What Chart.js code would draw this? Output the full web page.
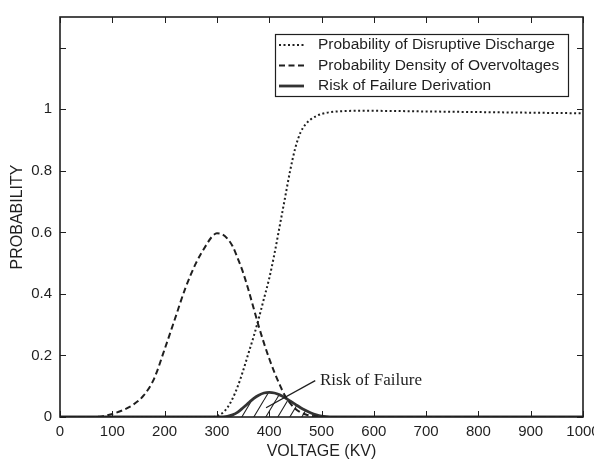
<!DOCTYPE html>
<html>
<head>
<meta charset="utf-8">
<title>Risk of failure</title>
<script src="https://cdn.jsdelivr.net/npm/chart.js@4.4.1/dist/chart.umd.min.js"></script>
<style>
  html, body { margin: 0; padding: 0; background: #fff; }
  #wrap { width: 594px; height: 463px; position: relative; }
</style>
</head>
<body>
<div id="wrap"><canvas id="chart"></canvas></div>
<script>
// probability of disruptive discharge (dotted)
const dischargeKv = [0, 100, 200, 290, 300, 310, 320, 330, 340, 350, 360, 370, 380, 390, 400, 410, 420, 430, 440, 450, 460, 470, 480, 490, 500, 510, 530, 560, 600, 700, 800, 900, 1000];
const dischargeProb = [0, 0, 0, 0, 0.003, 0.012, 0.03, 0.06, 0.1, 0.15, 0.205, 0.26, 0.32, 0.385, 0.45, 0.53, 0.62, 0.71, 0.8, 0.875, 0.925, 0.952, 0.968, 0.978, 0.985, 0.989, 0.993, 0.995, 0.995, 0.993, 0.991, 0.989, 0.987];

// probability density of overvoltages (dashed)
const densityKv = [0, 50, 80, 100, 120, 140, 160, 180, 200, 220, 240, 260, 280, 290, 300, 310, 320, 330, 340, 350, 360, 370, 380, 390, 400, 410, 420, 430, 440, 450, 460, 470, 480, 500, 520, 560, 600, 800, 1000];
const densityProb = [0, 0, 0.002, 0.01, 0.022, 0.04, 0.07, 0.125, 0.22, 0.32, 0.42, 0.5, 0.56, 0.585, 0.597, 0.594, 0.58, 0.555, 0.515, 0.47, 0.415, 0.355, 0.295, 0.24, 0.19, 0.145, 0.105, 0.07, 0.045, 0.027, 0.015, 0.008, 0.004, 0.001, 0, 0, 0, 0, 0];

// risk of failure derivation (solid, hatched underneath)
const riskKv = [0, 100, 200, 300, 320, 330, 340, 350, 360, 370, 380, 390, 400, 410, 420, 430, 440, 450, 460, 470, 480, 490, 500, 510, 520, 600, 700, 800, 900, 1000];
const riskProb = [0, 0, 0, 0, 0.002, 0.007, 0.016, 0.03, 0.045, 0.06, 0.071, 0.078, 0.08, 0.078, 0.072, 0.063, 0.052, 0.041, 0.03, 0.021, 0.013, 0.007, 0.003, 0.001, 0, 0, 0, 0, 0, 0];

const xTickValues = [0, 100, 200, 300, 400, 500, 600, 700, 800, 900, 1000];
const yTickValues = [0, 0.2, 0.4, 0.6, 0.8, 1, 1.2];

const seriesLabels = [
    'Probability of Disruptive Discharge',
    'Probability Density of Overvoltages',
    'Risk of Failure Derivation'
];

const noteText = 'Risk of Failure';
const noteTextAt = [497, 0.105];
const notePointer = [[488, 0.118], [394, 0.03]];

const ink = '#1f1f1f';

const toPoints = (xs, ys) => xs.map((v, i) => ({ x: v, y: ys[i] }));

// diagonal "/" hatching for the risk area
const makeHatch = () => {
    const tile = document.createElement('canvas');
    tile.width = 12;
    tile.height = 20;
    const c = tile.getContext('2d');
    c.strokeStyle = '#222';
    c.lineWidth = 1.1;
    c.beginPath();
    [-12, 0, 12].forEach((dx) => {
        c.moveTo(dx, 20);
        c.lineTo(dx + 12, 0);
    });
    c.stroke();
    return c.createPattern(tile, 'repeat');
};

// box, inward ticks, legend and the pointer note
const decorations = {
    id: 'decorations',
    afterDatasetsDraw(chart) {
        const { ctx, chartArea: a, scales: { x, y } } = chart;
        ctx.save();
        ctx.strokeStyle = ink;
        ctx.fillStyle = ink;

        ctx.lineWidth = 1;
        ctx.beginPath();
        x.ticks.forEach((t) => {
            const px = Math.round(x.getPixelForValue(t.value)) + 0.5;
            ctx.moveTo(px, a.bottom);
            ctx.lineTo(px, a.bottom - 6);
            ctx.moveTo(px, a.top);
            ctx.lineTo(px, a.top + 6);
        });
        y.ticks.forEach((t) => {
            const py = Math.round(y.getPixelForValue(t.value)) + 0.5;
            ctx.moveTo(a.left, py);
            ctx.lineTo(a.left + 6, py);
            ctx.moveTo(a.right, py);
            ctx.lineTo(a.right - 6, py);
        });
        ctx.stroke();

        ctx.lineWidth = 1.6;
        ctx.strokeRect(a.left, a.top, a.right - a.left, a.bottom - a.top);

        // legend
        const bw = 293, bh = 62;
        const bx = a.right - bw - 15, by = a.top + 17;
        ctx.fillStyle = '#fff';
        ctx.fillRect(bx, by, bw, bh);
        ctx.lineWidth = 1.2;
        ctx.strokeRect(bx + 0.5, by + 0.5, bw, bh);
        ctx.font = '15.5px "Liberation Sans", Arial, sans-serif';
        ctx.textBaseline = 'middle';
        chart.data.datasets.forEach((ds, i) => {
            const ly = by + 11 + i * 20.5;
            ctx.save();
            ctx.strokeStyle = ds.borderColor;
            ctx.lineWidth = ds.borderWidth;
            ctx.setLineDash(ds.borderDash || []);
            ctx.beginPath();
            ctx.moveTo(bx + 4, ly);
            ctx.lineTo(bx + 29, ly);
            ctx.stroke();
            ctx.restore();
            ctx.fillStyle = ink;
            ctx.fillText(ds.label, bx + 43, ly);
        });

        // note with pointer
        ctx.lineWidth = 1.3;
        ctx.beginPath();
        ctx.moveTo(x.getPixelForValue(notePointer[0][0]), y.getPixelForValue(notePointer[0][1]));
        ctx.lineTo(x.getPixelForValue(notePointer[1][0]), y.getPixelForValue(notePointer[1][1]));
        ctx.stroke();
        ctx.font = '17px "Liberation Serif", "Times New Roman", serif';
        ctx.textBaseline = 'alphabetic';
        ctx.fillStyle = ink;
        ctx.fillText(noteText, x.getPixelForValue(noteTextAt[0]), y.getPixelForValue(noteTextAt[1]));

        ctx.restore();
    }
};

Chart.defaults.font.family = '"Liberation Sans", Arial, sans-serif';
Chart.defaults.font.size = 15;
Chart.defaults.color = ink;

new Chart(document.getElementById('chart'), {
    type: 'line',
    data: {
        datasets: [
            {
                label: seriesLabels[0],
                data: toPoints(dischargeKv, dischargeProb),
                borderColor: ink,
                borderWidth: 2,
                borderDash: [2, 2.5],
                fill: false
            },
            {
                label: seriesLabels[1],
                data: toPoints(densityKv, densityProb),
                borderColor: ink,
                borderWidth: 2,
                borderDash: [6, 3.5],
                fill: false
            },
            {
                label: seriesLabels[2],
                data: toPoints(riskKv, riskProb),
                borderColor: '#333',
                borderWidth: 2.8,
                backgroundColor: makeHatch(),
                fill: 'origin'
            }
        ]
    },
    options: {
        responsive: true,
        maintainAspectRatio: false,
        animation: false,
        layout: { padding: { left: 0, right: 11, top: 10, bottom: 0 } },
        elements: {
            point: { radius: 0 },
            line: { cubicInterpolationMode: 'monotone' }
        },
        plugins: {
            legend: { display: false },
            tooltip: { enabled: false }
        },
        scales: {
            x: {
                type: 'linear',
                min: 0,
                max: 1000,
                grid: { display: false, drawTicks: false },
                border: { display: false },
                ticks: { padding: 6, maxRotation: 0, callback: (v) => String(v) },
                title: { display: true, text: 'VOLTAGE (KV)', font: { size: 16 }, padding: { top: 0, bottom: 2 } },
                afterBuildTicks: (s) => { s.ticks = xTickValues.map((v) => ({ value: v })); },
                afterFit: (s) => { s.height = 46; s.paddingLeft = 0; s.paddingRight = 0; }
            },
            y: {
                min: 0,
                max: 1.3,
                grid: { display: false, drawTicks: false },
                border: { display: false },
                ticks: {
                    padding: 8,
                    callback: (v) => (v > 1.05 ? '' : String(Math.round(v * 10) / 10))
                },
                title: { display: true, text: 'PROBABILITY', font: { size: 16 }, padding: { top: 8, bottom: 0 } },
                afterBuildTicks: (s) => { s.ticks = yTickValues.map((v) => ({ value: v })); },
                afterFit: (s) => { s.width = 60; }
            }
        }
    },
    plugins: [decorations]
});
</script>
</body>
</html>
